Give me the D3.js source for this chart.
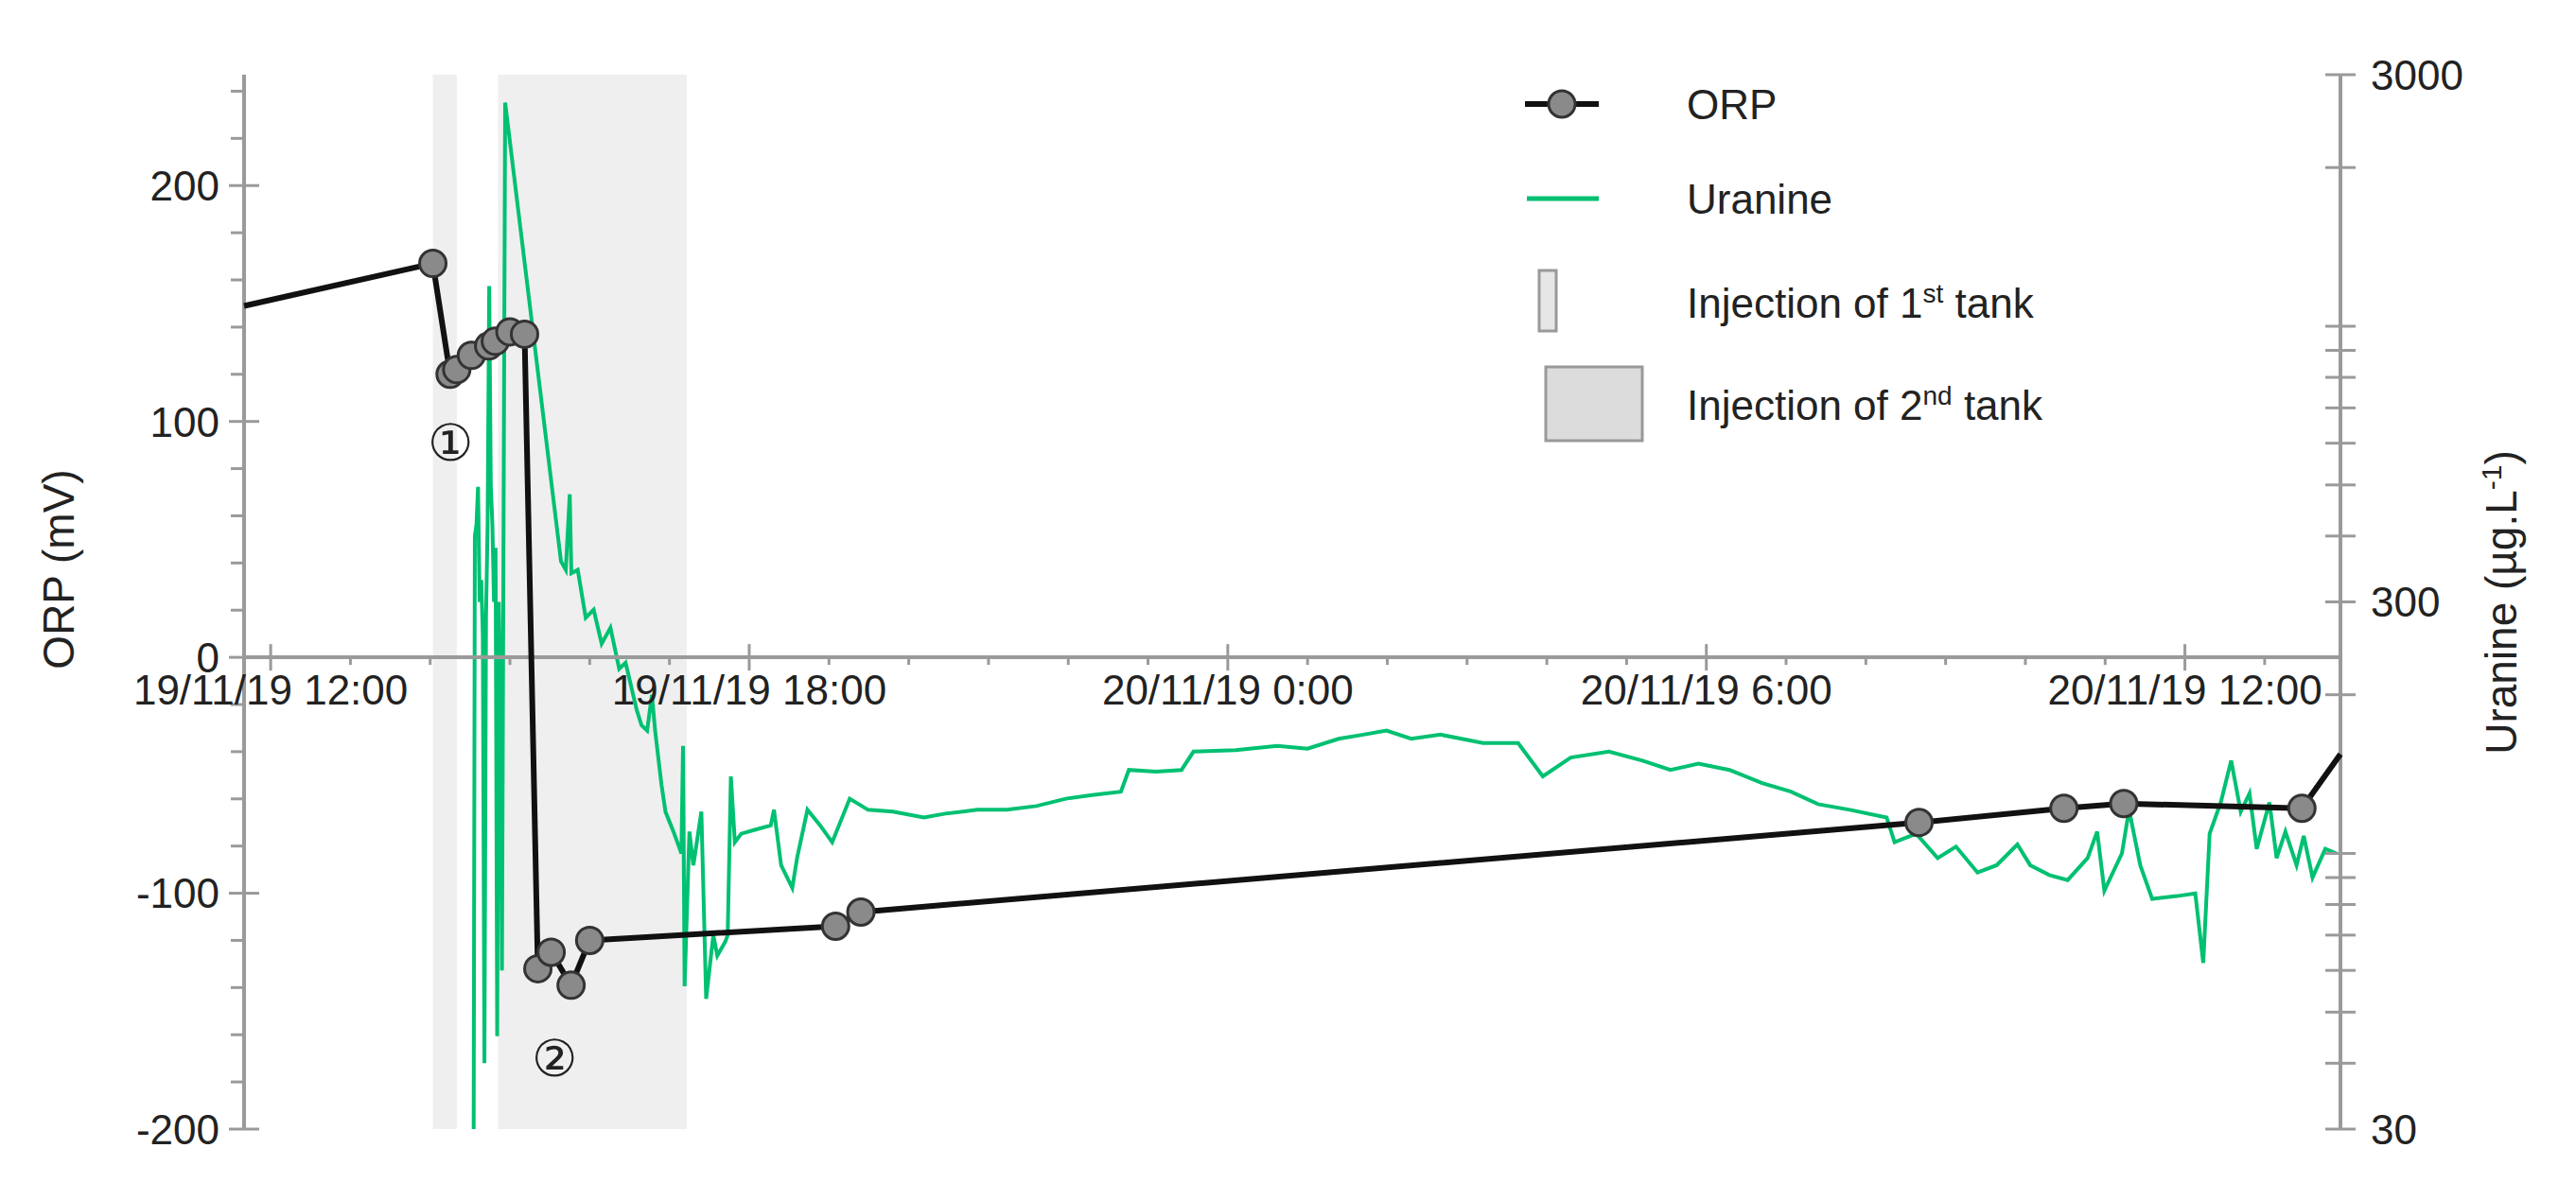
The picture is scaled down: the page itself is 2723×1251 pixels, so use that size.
<!DOCTYPE html>
<html>
<head>
<meta charset="utf-8">
<script src="https://cdn.jsdelivr.net/npm/d3@7"></script>
<style>
  body { margin: 0; background: #fff; }
  text { font-family: "Liberation Sans Narrow", "Liberation Sans", Arial, sans-serif; fill: #222; }
</style>
</head>
<body>
<div id="chart"></div>
<script>
// ORP readings: [time, mV]
var orpData = [
  ["2019-11-19T11:40", 149], ["2019-11-19T14:02", 167], ["2019-11-19T14:15", 120],
  ["2019-11-19T14:20", 122], ["2019-11-19T14:31", 128], ["2019-11-19T14:44", 132],
  ["2019-11-19T14:49", 134], ["2019-11-19T15:00", 138], ["2019-11-19T15:11", 137],
  ["2019-11-19T15:21", -132], ["2019-11-19T15:31", -125], ["2019-11-19T15:46", -139],
  ["2019-11-19T16:00", -120], ["2019-11-19T19:05", -114], ["2019-11-19T19:24", -108],
  ["2019-11-20T08:40", -70], ["2019-11-20T10:29", -64], ["2019-11-20T11:14", -62],
  ["2019-11-20T13:28", -64], ["2019-11-20T13:57", -41]
];
// points drawn without marker (line ends)
var orpNoMarker = [0, 19];

// Uranine: [hours after 19/11/19 12:00, µg/L]
var uranineData = [
  [2.545, 28], [2.56, 400], [2.58, 420], [2.60, 496], [2.62, 300], [2.64, 330], [2.66, 260],
  [2.68, 40], [2.70, 280], [2.72, 420], [2.74, 1192], [2.76, 500], [2.78, 420], [2.80, 300],
  [2.82, 380], [2.84, 45], [2.86, 300], [2.88, 200], [2.90, 60], [2.92, 420], [2.94, 2655],
  [3.64, 358], [3.70, 345], [3.75, 480], [3.77, 340], [3.85, 345], [3.95, 280], [4.05, 290],
  [4.15, 250], [4.26, 268], [4.37, 224], [4.45, 230], [4.59, 187], [4.65, 175], [4.72, 171],
  [4.78, 200], [4.82, 171], [4.90, 135], [4.95, 120], [5.05, 110], [5.15, 100], [5.17, 160],
  [5.19, 56], [5.25, 110], [5.30, 95], [5.40, 120], [5.46, 53], [5.55, 70], [5.60, 64],
  [5.70, 68], [5.73, 70], [5.77, 140], [5.82, 105], [5.90, 109], [6.08, 111], [6.27, 113],
  [6.31, 121], [6.40, 95], [6.54, 86], [6.60, 98], [6.73, 121], [6.89, 113], [7.04, 105],
  [7.26, 127], [7.49, 121], [7.8, 120], [8.19, 117], [8.46, 119], [8.86, 121], [9.23, 121],
  [9.6, 123], [9.97, 127], [10.3, 129], [10.66, 131], [10.76, 144], [11.1, 143], [11.42, 144],
  [11.57, 156], [12.1, 157], [12.62, 160], [13.0, 158], [13.39, 165], [13.7, 168], [13.99, 171],
  [14.3, 165], [14.67, 168], [15.2, 162], [15.64, 162], [15.95, 140], [16.3, 152], [16.78, 156],
  [17.2, 150], [17.55, 144], [17.9, 148], [18.29, 144], [18.7, 136], [19.06, 131], [19.4, 124],
  [19.80, 121], [20.26, 117], [20.36, 105], [20.63, 109], [20.9, 98], [21.13, 103], [21.4, 92],
  [21.64, 95], [21.9, 104], [22.06, 95], [22.3, 91], [22.53, 89], [22.78, 98], [22.9, 110],
  [22.99, 85], [23.21, 100], [23.3, 121], [23.44, 95], [23.59, 82], [23.9, 83], [24.13, 84],
  [24.23, 62], [24.31, 109], [24.45, 125], [24.58, 150], [24.7, 120], [24.81, 130], [24.9, 102],
  [25.06, 125], [25.15, 98], [25.26, 110], [25.4, 95], [25.49, 108], [25.6, 90], [25.76, 102],
  [25.9, 100]
];

var injections = [
  ["2019-11-19T14:02", "2019-11-19T14:20"],
  ["2019-11-19T14:51", "2019-11-19T17:13"]
];
var xTickLabels = ["19/11/19 12:00", "19/11/19 18:00", "20/11/19 0:00", "20/11/19 6:00", "20/11/19 12:00"];
var orpTicks = [-200, -100, 0, 100, 200];
var uranineTicks = [30, 300, 3000];

(function() {
  var W = 2723, H = 1251;
  var mLeft = 258, mRight = 2474, mTop = 79, mBottom = 1194;
  var t0 = new Date("2019-11-19T12:00");
  var parse = function(s){ return new Date(s); };
  var hrs = function(h){ return new Date(t0.getTime() + h * 3600e3); };

  var x = d3.scaleTime().domain([parse("2019-11-19T11:40"), parse("2019-11-20T13:57")]).range([mLeft, mRight]);
  var yL = d3.scaleLinear().domain([-200, 247]).range([mBottom, mTop]);
  var yR = d3.scaleLog().domain([30, 3000]).range([mBottom, mTop]);

  var svg = d3.select("#chart").append("svg").attr("width", W).attr("height", H);
  var axisCol = "#9a9a9a";

  // injection shading
  svg.selectAll("rect.inj").data(injections).enter().append("rect")
    .attr("x", function(d){ return x(parse(d[0])); })
    .attr("width", function(d){ return x(parse(d[1])) - x(parse(d[0])); })
    .attr("y", mTop).attr("height", mBottom - mTop)
    .attr("fill", "#efefef");

  // uranine
  svg.append("clipPath").attr("id", "clip").append("rect")
    .attr("x", mLeft).attr("y", mTop).attr("width", mRight - mLeft).attr("height", mBottom - mTop);
  svg.append("path").datum(uranineData)
    .attr("clip-path", "url(#clip)")
    .attr("fill", "none").attr("stroke", "#00c072").attr("stroke-width", 4)
    .attr("d", d3.line().x(function(d){ return x(hrs(d[0])); }).y(function(d){ return yR(d[1]); }));

  // left axis
  var gL = svg.append("g").attr("transform", "translate(" + mLeft + ",0)");
  gL.append("line").attr("y1", mTop).attr("y2", mBottom).attr("stroke", axisCol).attr("stroke-width", 4);
  d3.range(-200, 241, 20).forEach(function(v){
    var major = v % 100 === 0;
    gL.append("line").attr("x1", major ? -16 : -14).attr("x2", major ? 16 : 0)
      .attr("y1", yL(v)).attr("y2", yL(v)).attr("stroke", axisCol).attr("stroke-width", 3);
  });
  gL.selectAll("text").data(orpTicks).enter().append("text")
    .attr("x", -26).attr("y", function(d){ return yL(d); }).attr("dy", "0.36em")
    .attr("text-anchor", "end").attr("font-size", 44).text(function(d){ return d; });

  // right axis
  var gR = svg.append("g").attr("transform", "translate(" + mRight + ",0)");
  gR.append("line").attr("y1", mTop).attr("y2", mBottom).attr("stroke", axisCol).attr("stroke-width", 4);
  var rTicks = [];
  [10, 100, 1000].forEach(function(p){ for (var k = 1; k < 10; k++) { var v = k * p; if (v >= 30 && v <= 3000) rTicks.push(v); } });
  rTicks.forEach(function(v){
    gR.append("line").attr("x1", -16).attr("x2", 16).attr("y1", yR(v)).attr("y2", yR(v))
      .attr("stroke", axisCol).attr("stroke-width", 3);
  });
  gR.selectAll("text").data(uranineTicks).enter().append("text")
    .attr("x", 32).attr("y", function(d){ return yR(d); }).attr("dy", "0.36em")
    .attr("font-size", 44).text(function(d){ return d; });

  // x axis at ORP = 0
  var y0 = yL(0);
  var gX = svg.append("g");
  gX.append("line").attr("x1", mLeft).attr("x2", mRight).attr("y1", y0).attr("y2", y0)
    .attr("stroke", axisCol).attr("stroke-width", 4);
  d3.timeHour.range(parse("2019-11-19T12:00"), parse("2019-11-20T14:00")).forEach(function(t, i){
    var major = i % 6 === 0;
    gX.append("line").attr("x1", x(t)).attr("x2", x(t))
      .attr("y1", major ? y0 - 14 : y0).attr("y2", major ? y0 + 14 : y0 + 8)
      .attr("stroke", axisCol).attr("stroke-width", 3);
  });
  gX.selectAll("text").data(xTickLabels).enter().append("text")
    .attr("x", function(d, i){ return x(hrs(i * 6)); }).attr("y", y0 + 50)
    .attr("text-anchor", "middle").attr("font-size", 44).text(function(d){ return d; });

  // ORP line + markers
  var orpPts = orpData.map(function(d){ return [parse(d[0]), d[1]]; });
  svg.append("path").datum(orpPts)
    .attr("fill", "none").attr("stroke", "#111").attr("stroke-width", 6).attr("stroke-linejoin", "round")
    .attr("d", d3.line().x(function(d){ return x(d[0]); }).y(function(d){ return yL(d[1]); }));
  svg.selectAll("circle.orp").data(orpPts.filter(function(d, i){ return orpNoMarker.indexOf(i) < 0; }))
    .enter().append("circle")
    .attr("cx", function(d){ return x(d[0]); }).attr("cy", function(d){ return yL(d[1]); })
    .attr("r", 14).attr("fill", "#8a8a8a").attr("stroke", "#333").attr("stroke-width", 3);

  // annotations
  svg.append("text").attr("x", 476).attr("y", 487).attr("text-anchor", "middle")
    .attr("font-family", "DejaVu Sans").attr("font-size", 54).text("①");
  svg.append("text").attr("x", 586).attr("y", 1138).attr("text-anchor", "middle")
    .attr("font-family", "DejaVu Sans").attr("font-size", 54).text("②");

  // axis titles
  svg.append("text").attr("transform", "translate(78,602) rotate(-90)").attr("text-anchor", "middle")
    .attr("font-size", 46).text("ORP (mV)");
  var rt = svg.append("text").attr("transform", "translate(2660,637) rotate(-90)").attr("text-anchor", "middle")
    .attr("font-size", 46);
  rt.append("tspan").text("Uranine (µg.L");
  rt.append("tspan").attr("dy", -16).attr("font-size", 30).text("-1");
  rt.append("tspan").attr("dy", 16).text(")");

  // legend
  var lg = svg.append("g");
  lg.append("line").attr("x1", 1612).attr("x2", 1690).attr("y1", 110).attr("y2", 110).attr("stroke", "#111").attr("stroke-width", 6);
  lg.append("circle").attr("cx", 1651).attr("cy", 110).attr("r", 14).attr("fill", "#8a8a8a").attr("stroke", "#333").attr("stroke-width", 3);
  lg.append("line").attr("x1", 1614).attr("x2", 1690).attr("y1", 210).attr("y2", 210).attr("stroke", "#00c072").attr("stroke-width", 5);
  lg.append("rect").attr("x", 1627).attr("y", 286).attr("width", 18).attr("height", 64).attr("fill", "#e6e6e6").attr("stroke", "#999").attr("stroke-width", 3);
  lg.append("rect").attr("x", 1634).attr("y", 388).attr("width", 102).attr("height", 78).attr("fill", "#dcdcdc").attr("stroke", "#999").attr("stroke-width", 3);
  var legTexts = [["ORP", null, "", 110], ["Uranine", null, "", 210], ["Injection of 1", "st", " tank", 320], ["Injection of 2", "nd", " tank", 428]];
  legTexts.forEach(function(d){
    var t = lg.append("text").attr("x", 1783).attr("y", d[3]).attr("dy", "0.36em").attr("font-size", 44);
    t.append("tspan").text(d[0]);
    if (d[1]) {
      t.append("tspan").attr("dy", -16).attr("font-size", 28).text(d[1]);
      t.append("tspan").attr("dy", 16).text(d[2]);
    }
  });
})();
</script>
</body>
</html>
